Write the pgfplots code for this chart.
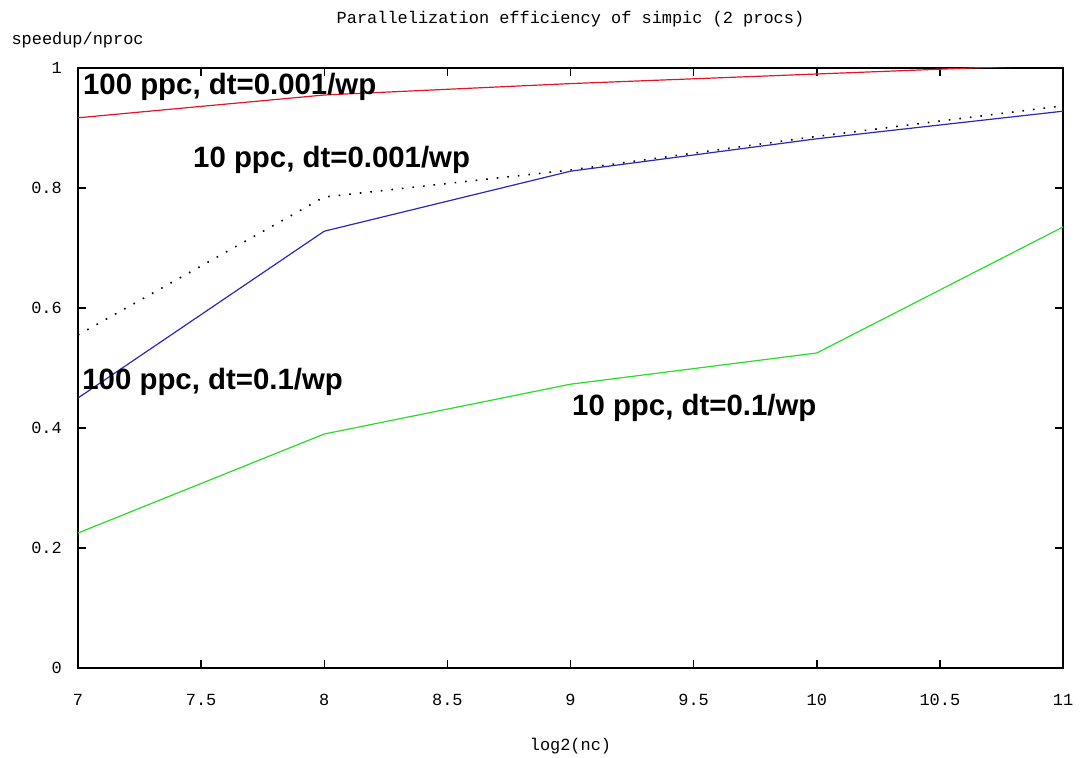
\documentclass[border=0pt]{standalone}
\usepackage{fontspec}
\setmainfont{Liberation Sans}
\newfontfamily\monof{Liberation Mono}
\usepackage{pgfplots}
\pgfplotsset{compat=1.18}
\definecolor{gred}{RGB}{228,20,40}
\definecolor{gblue}{RGB}{40,40,190}
\definecolor{ggreen}{RGB}{40,220,40}
\begin{document}
\begin{tikzpicture}
\path[use as bounding box] (-78bp,-90bp) rectangle (1004bp,668bp);
\begin{axis}[
  at={(0,0)}, anchor=south west,
  scale only axis, width=985bp, height=600bp,
  xmin=7, xmax=11, ymin=0, ymax=1,
  xtick={7,7.5,8,8.5,9,9.5,10,10.5,11},
  ytick={0,0.2,0.4,0.6,0.8,1},
  /pgf/number format/assume math mode=true,
  /pgf/number format/fixed,
  /pgf/number format/precision=1,
  tick align=inside,
  major tick length=8bp,
  tick style={line width=1.5bp, black},
  axis line style={line width=2bp},
  ticklabel style={font=\monof\fontsize{17}{20}\selectfont},
  xticklabel style={anchor=center, yshift=-32bp},
  yticklabel style={anchor=east, inner sep=0pt, xshift=-16bp},
  title={Parallelization efficiency of simpic (2 procs)},
  title style={at={(axis description cs:0.5,1)}, anchor=center, yshift=43bp, font=\monof\fontsize{17}{20}\selectfont},
  xlabel={log2(nc)},
  xlabel style={at={(axis description cs:0.5,0)}, anchor=center, yshift=-78bp, font=\monof\fontsize{17}{20}\selectfont},
  ylabel={speedup/nproc},
  ylabel style={at={(axis description cs:0,1)}, rotate=-90, anchor=west, xshift=-70bp, yshift=28bp, font=\monof\fontsize{17}{20}\selectfont},
  clip=true,
]
\addplot[gred, line width=1.2bp] coordinates {(7,0.917) (8,0.955) (9,0.974) (10,0.99) (11,1.006)};
\addplot[black, line width=1.6bp, dash pattern=on 1.6bp off 9bp] coordinates {(7,0.555) (8,0.785) (9,0.83) (10,0.886) (11,0.937)};
\addplot[gblue, line width=1.2bp] coordinates {(7,0.45) (8,0.728) (9,0.828) (10,0.882) (11,0.928)};
\addplot[ggreen, line width=1.2bp] coordinates {(7,0.225) (8,0.39) (9,0.473) (10,0.525) (11,0.735)};
\node[anchor=west, inner sep=0pt, font=\bfseries\fontsize{29.5}{34}\selectfont] at (axis cs:7.02,0.968) {100 ppc, dt=0.001/wp};
\node[anchor=west, inner sep=0pt, font=\bfseries\fontsize{29.5}{34}\selectfont] at (axis cs:7.467,0.847) {10 ppc, dt=0.001/wp};
\node[anchor=west, inner sep=0pt, font=\bfseries\fontsize{29.5}{34}\selectfont] at (axis cs:7.017,0.477) {100 ppc, dt=0.1/wp};
\node[anchor=west, inner sep=0pt, font=\bfseries\fontsize{29.5}{34}\selectfont] at (axis cs:9.006,0.433) {10 ppc, dt=0.1/wp};
\end{axis}
\end{tikzpicture}
\end{document}
